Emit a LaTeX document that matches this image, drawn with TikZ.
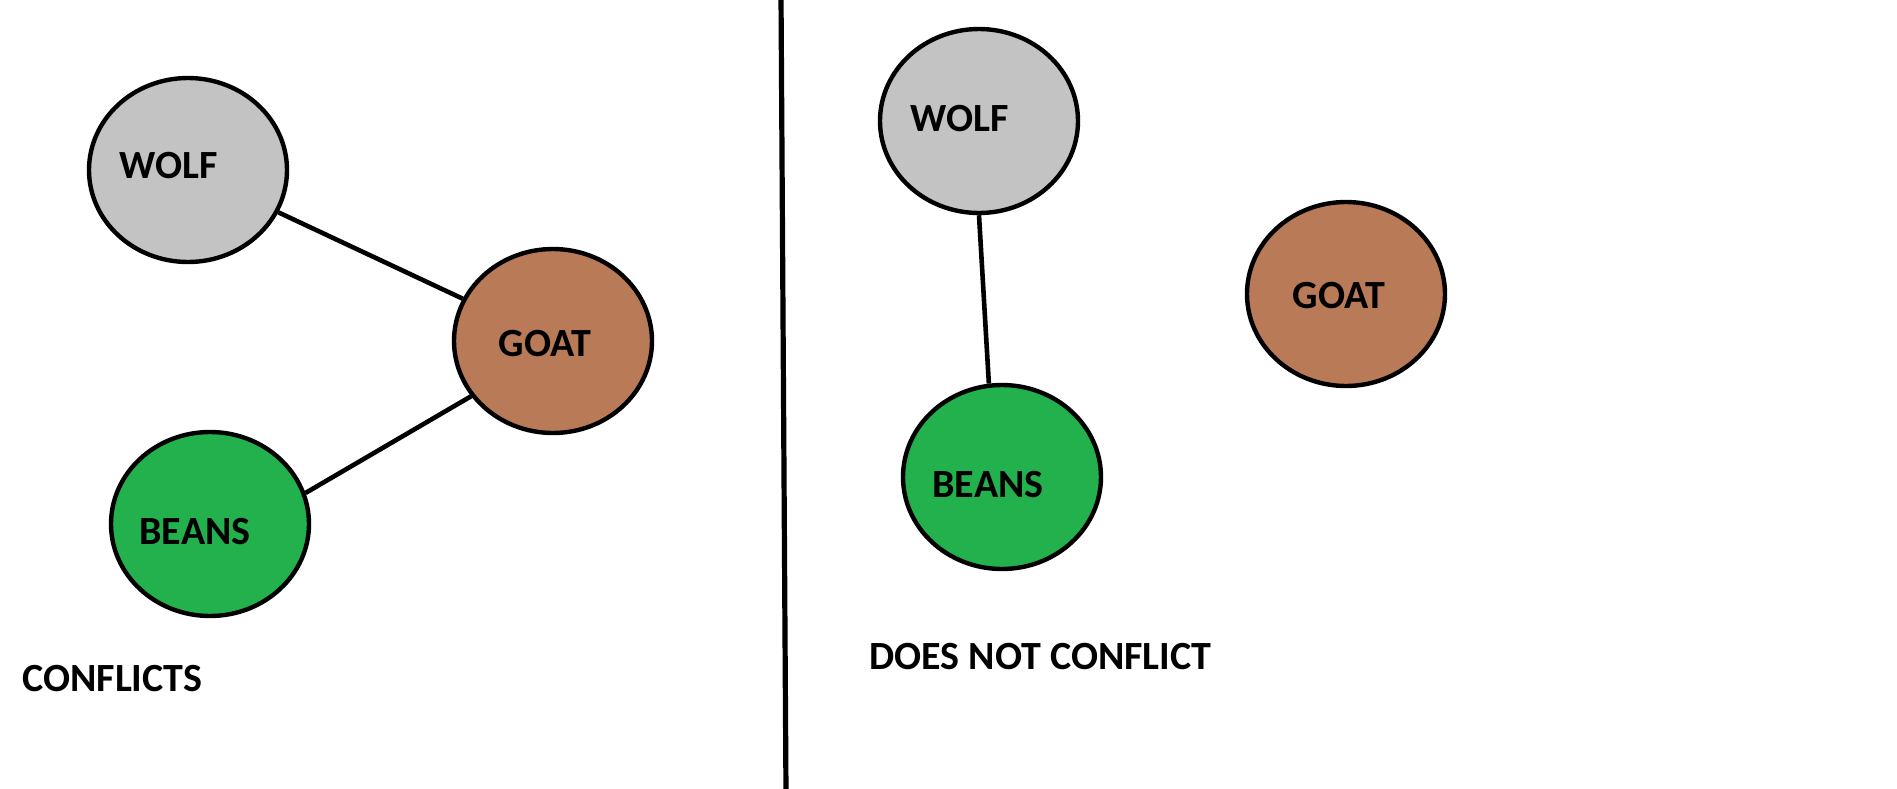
\documentclass[tikz,border=0pt]{standalone}
\usepackage{fontspec}
\setmainfont{Carlito}
\usetikzlibrary{shapes.geometric}
\definecolor{wolfgrey}{HTML}{C3C3C3}
\definecolor{goatbrown}{HTML}{B97A57}
\definecolor{beansgreen}{HTML}{22B14C}
\tikzset{
  animal/.style={ellipse, draw=black, line width=2.2pt, minimum width=99pt, minimum height=92pt, inner sep=0pt},
  lbl/.style={font=\fontsize{20pt}{24pt}\selectfont\bfseries, inner sep=0pt, anchor=center},
  conn/.style={draw=black, line width=2.3pt},
  divider/.style={draw=black, line width=2.6pt}
}
\begin{document}
\begin{tikzpicture}[x=0.5pt, y=-0.5pt]
\useasboundingbox[fill=white] (0,0) rectangle (1897,788);
% divider
\coordinate (dtop) at (781,-5);
\coordinate (dbot) at (786,793);
\draw[divider] (dtop) -- (dbot);
% left: conflicts
\node[animal, fill=wolfgrey] (lwolf) at (188,170) {};
\node[animal, fill=goatbrown] (lgoat) at (553,341) {};
\node[animal, fill=beansgreen] (lbeans) at (210,524) {};
\node[lbl] (lwolft) at (169,166) {WOLF};
\node[lbl] (lgoatt) at (545,344) {GOAT};
\node[lbl] (lbeanst) at (195,532) {BEANS};
\draw[conn] (lwolf) -- (lgoat);
\draw[conn] (lgoat.214) -- (lbeans.18);
\node[lbl, anchor=west] (lcap) at (22,679) {CONFLICTS};
% right: does not conflict
\node[animal, fill=wolfgrey] (rwolf) at (979,121) {};
\node[animal, fill=goatbrown] (rgoat) at (1346,294) {};
\node[animal, fill=beansgreen] (rbeans) at (1002,477) {};
\node[lbl] (rwolft) at (960,119) {WOLF};
\node[lbl] (rgoatt) at (1339,296) {GOAT};
\node[lbl] (rbeanst) at (988,485) {BEANS};
\draw[conn] (rwolf.-90) -- (rbeans.98);
\node[lbl, anchor=west] (rcap) at (869,657) {DOES NOT CONFLICT};
\end{tikzpicture}
\end{document}
